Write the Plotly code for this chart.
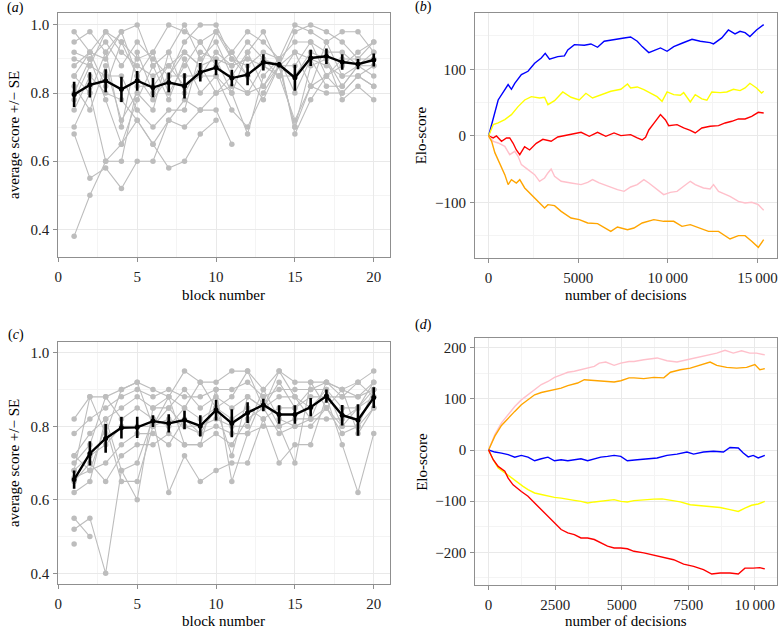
import plotly.graph_objects as go

FONT = "Liberation Serif, Times New Roman, serif"
W, H = 780, 629

# ---------------- Panel (a) data ----------------
blocks = list(range(1, 21))
a_mean = [0.796, 0.824, 0.836, 0.811, 0.836, 0.816, 0.831, 0.821, 0.861, 0.875,
          0.844, 0.854, 0.890, 0.883, 0.845, 0.903, 0.908, 0.891, 0.885, 0.897]
a_se = [0.037, 0.037, 0.034, 0.037, 0.029, 0.028, 0.029, 0.037, 0.027, 0.023,
        0.024, 0.031, 0.024, 0.008, 0.038, 0.024, 0.023, 0.023, 0.015, 0.019]
a_p01 = [0.98, 0.92, 0.98, 0.95, 0.90, 0.92, 1.00, 0.98, 0.95, 0.98, 0.92, 0.98, 0.95, 0.90, 1.00, 0.98, 0.95, 0.98, 0.98, 0.92]
a_p02 = [0.95, 0.98, 0.92, 0.98, 1.00, 0.88, 0.92, 1.00, 0.90, 0.95, 0.85, 0.92, 0.98, 0.88, 0.98, 1.00, 0.98, 0.95, 0.90, 0.95]
a_p03 = [0.92, 0.90, 0.95, 0.88, 0.95, 0.90, 0.85, 0.95, 1.00, 1.00, 0.90, 0.88, 0.92, 0.90, 0.95, 0.95, 0.92, 0.92, 0.88, 0.90]
a_p04 = [0.90, 0.88, 0.98, 0.92, 0.88, 0.85, 0.88, 0.92, 0.88, 0.90, 0.88, 0.90, 0.88, 0.85, 0.92, 0.90, 0.88, 0.85, 0.85, 0.88]
a_p05 = [0.88, 0.92, 0.90, 0.98, 0.85, 0.92, 0.80, 0.88, 0.95, 0.88, 0.92, 0.85, 0.90, 0.88, 0.88, 0.95, 0.85, 0.88, 0.92, 0.95]
a_p06 = [0.85, 0.80, 0.92, 0.70, 0.92, 0.80, 0.85, 0.85, 0.85, 0.85, 0.80, 0.92, 0.82, 0.90, 0.80, 0.90, 0.82, 0.82, 0.88, 0.88]
a_p07 = [0.82, 0.75, 0.88, 0.72, 0.80, 0.75, 0.92, 0.80, 0.88, 0.80, 0.85, 0.80, 0.88, 0.85, 0.72, 0.82, 0.80, 0.80, 0.85, 0.82]
a_p08 = [0.80, 0.90, 0.78, 0.65, 0.78, 0.88, 0.78, 0.90, 0.80, 0.85, 0.75, 0.70, 0.80, 0.88, 0.70, 0.88, 0.90, 0.78, 0.82, 0.78]
a_p09 = [0.78, 0.88, 0.85, 0.85, 0.75, 0.70, 0.75, 0.75, 0.92, 0.90, 0.80, 0.68, 0.85, 0.90, 0.68, 0.78, 0.85, 0.90, 0.90, 0.90]
a_p10 = [0.75, 0.85, 0.80, 0.78, 0.72, 0.65, 0.72, 0.70, 0.75, 0.75, 0.65, None, None, None, None, None, None, None, None, None]
a_p11 = [0.70, 0.80, 0.60, 0.60, 0.82, 0.82, 0.88, 0.82, 0.85, 0.92, 0.88, 0.95, 0.90, 0.85, 0.85, 0.92, 0.90, 0.82, 0.88, 0.85]
a_p12 = [0.68, 0.55, 0.58, 0.52, 0.60, 0.60, 0.72, 0.78, 0.75, 0.80, 0.82, 0.80, 0.82, 0.88, 0.70, 0.82, 0.85, 0.80, 0.85, 0.82]
a_p13 = [0.38, 0.50, 0.60, 0.65, 0.72, 0.65, 0.58, 0.60, 0.68, 0.72, None, None, None, None, None, None, None, None, None, None]
a_p14 = [0.85, 0.92, 0.82, 0.95, 0.85, 0.78, 0.85, 0.92, 0.88, 0.98, 0.90, 0.85, 0.78, 0.88, 0.92, 0.82, 0.95, 0.85, 0.88, 0.92]
a_people = [a_p01, a_p02, a_p03, a_p04, a_p05, a_p06, a_p07, a_p08, a_p09, a_p10, a_p11, a_p12, a_p13, a_p14]

# ---------------- Panel (c) data ----------------
c_mean = [0.655, 0.726, 0.767, 0.796, 0.797, 0.814, 0.808, 0.817, 0.801, 0.844,
          0.808, 0.837, 0.858, 0.832, 0.832, 0.852, 0.882, 0.830, 0.817, 0.878]
c_se = [0.025, 0.033, 0.039, 0.029, 0.029, 0.016, 0.025, 0.025, 0.029, 0.028,
        0.038, 0.028, 0.017, 0.025, 0.025, 0.025, 0.018, 0.028, 0.043, 0.028]
c_p01 = [0.82, 0.88, 0.88, 0.90, 0.92, 0.90, 0.88, 0.95, 0.92, 0.92, 0.95, 0.95, 0.90, 0.95, 0.92, 0.92, 0.92, 0.90, 0.92, 0.95]
c_p02 = [0.78, 0.82, 0.85, 0.88, 0.90, 0.88, 0.90, 0.88, 0.88, 0.90, 0.90, 0.92, 0.88, 0.90, 0.90, 0.90, 0.92, 0.88, 0.88, 0.92]
c_p03 = [0.72, 0.78, 0.82, 0.85, 0.88, 0.85, 0.85, 0.90, 0.85, 0.88, 0.85, 0.88, 0.85, 0.88, 0.88, 0.85, 0.90, 0.85, 0.85, 0.90]
c_p04 = [0.70, 0.75, 0.88, 0.82, 0.85, 0.82, 0.80, 0.85, 0.82, 0.85, 0.82, 0.85, 0.82, 0.85, 0.85, 0.88, 0.88, 0.88, 0.92, 0.88]
c_p05 = [0.68, 0.72, 0.75, 0.80, 0.80, 0.80, 0.82, 0.80, 0.80, 0.82, 0.80, 0.80, 0.90, 0.82, 0.80, 0.82, 0.85, 0.80, 0.80, 0.85]
c_p06 = [0.66, 0.68, 0.70, 0.75, 0.78, 0.78, 0.75, 0.82, 0.78, 0.80, 0.78, 0.78, 0.88, 0.80, 0.82, 0.82, 0.82, 0.82, 0.85, 0.88]
c_p07 = [0.65, 0.70, 0.65, 0.72, 0.75, 0.75, 0.78, 0.75, 0.75, 0.78, 0.75, 0.82, 0.85, 0.78, 0.80, 0.80, 0.85, 0.90, 0.78, 0.85]
c_p08 = [0.62, 0.65, 0.82, 0.68, 0.70, 0.82, 0.62, 0.72, 0.65, 0.68, 0.70, 0.70, 0.82, 0.70, 0.75, 0.75, 0.88, 0.75, 0.62, 0.78]
c_p09 = [0.72, 0.68, 0.80, 0.65, 0.65, 0.80, 0.88, 0.75, 0.75, 0.90, 0.65, 0.78, 0.80, 0.80, 0.70, 0.92, 0.85, 0.78, 0.80, 0.90]
c_p10 = [0.55, 0.50, None, None, None, None, None, None, None, None, None, None, None, None, None, None, None, None, None, None]
c_p11 = [0.52, 0.55, 0.40, 0.68, 0.60, 0.85, 0.88, 0.85, 0.92, 0.85, 0.72, 0.88, 0.85, 0.92, 0.85, 0.90, 0.90, 0.80, 0.85, 0.92]
c_p12 = [0.48, None, None, None, None, None, None, None, None, None, None, None, None, None, None, None, None, None, None, None]
c_p13 = [0.68, 0.88, 0.78, 0.90, 0.92, 0.80, 0.85, 0.80, 0.78, 0.85, 0.88, 0.95, 0.85, 0.95, 0.88, 0.82, 0.92, 0.90, 0.88, 0.90]
c_people = [c_p01, c_p02, c_p03, c_p04, c_p05, c_p06, c_p07, c_p08, c_p09, c_p10, c_p11, c_p12, c_p13]

# ---------------- Panel (b) data ----------------
b_blue_x = [0, 350, 535, 1090, 1275, 1460, 1830, 2200, 2570, 2940, 3160, 3400, 3860, 4230, 4420, 4790, 5340, 5710, 6080, 6450, 7000, 7560, 7925, 8295, 8570, 8940, 9220, 9590, 9960, 10330, 10790, 11350, 11810, 12360, 12550, 13010, 13380, 13750, 14030, 14310, 14580, 14950, 15350]
b_blue_y = [0, 34, 54, 77, 70, 79, 92, 97, 109, 117, 124, 115, 119, 120, 129, 137, 136, 138, 133, 142, 144, 147, 148.5, 142, 134, 125, 128, 132, 127, 134, 139, 145, 142, 140, 138, 147, 159, 153, 157, 155, 149, 159, 167]
b_yellow_x = [0, 260, 535, 905, 1275, 1645, 2015, 2385, 2845, 3125, 3310, 3680, 4140, 4600, 5060, 5430, 5800, 6270, 6820, 7380, 7750, 7925, 8295, 8665, 9400, 9680, 9960, 10330, 10700, 10885, 11255, 11530, 11900, 12180, 12455, 12920, 13290, 13660, 14030, 14310, 14580, 14950, 15230, 15350]
b_yellow_y = [0, 17, 19.5, 24.5, 32, 44, 54, 59, 57, 58, 47, 53, 66, 58, 54, 64, 57, 62, 67, 70, 78, 72, 73.5, 69.5, 59, 52, 66, 62, 61, 65, 51, 62, 55.5, 53.5, 66, 65, 66, 70, 68, 72, 79, 72, 64.5, 67]
b_red_x = [0, 260, 440, 720, 1000, 1180, 1370, 1550, 1740, 2010, 2290, 2660, 3030, 3490, 3860, 4230, 4790, 5160, 5620, 6080, 6540, 7000, 7380, 7750, 7925, 8295, 8570, 8760, 8940, 9220, 9590, 9870, 10050, 10515, 10885, 11255, 11530, 11900, 12360, 12830, 13200, 13570, 13940, 14310, 14680, 15050, 15350]
b_red_y = [0, -3, 0, -8, -3, -3, -11, -21, -28, -16, -21, -11, -5, -8, -1.5, 0.5, 4.5, 5.5, -0.5, 5.5, -0.5, 4.5, 0.5, 2, 2, -3, -6, -2, 9, 19, 32, 24, 15.5, 17, 12, 8.5, 4.5, 12, 14.5, 15.5, 19.5, 22, 25.5, 25.5, 29.5, 35.5, 34.5]
b_pink_x = [0, 260, 535, 905, 1180, 1460, 1645, 1830, 2200, 2570, 2845, 3125, 3310, 3490, 3680, 4050, 4600, 5160, 5530, 5800, 6170, 6640, 7190, 7560, 7925, 8295, 8665, 8940, 9400, 9770, 10140, 10515, 10885, 11255, 11530, 11990, 12360, 12550, 12830, 13100, 13470, 13940, 14310, 14680, 15050, 15350]
b_pink_y = [0, -8, -10.5, -15.5, -28, -23, -30.5, -43, -50.5, -58, -68, -63, -55.5, -49.5, -60.5, -68, -70.5, -73, -69.5, -65.5, -70.5, -75.5, -80.5, -83, -76.5, -73, -65.5, -70.5, -79.5, -88, -84.5, -83, -75.5, -68, -73, -78, -79.5, -73, -83, -86.5, -90.5, -98, -100.5, -99.5, -103, -111.5]
b_orange_x = [0, 170, 350, 630, 905, 1090, 1275, 1550, 1740, 2015, 2480, 2845, 3125, 3310, 3680, 4050, 4600, 5060, 5530, 6080, 6540, 6820, 7190, 7750, 8110, 8570, 9220, 9770, 10330, 10790, 11255, 11810, 12270, 12830, 13100, 13470, 13940, 14310, 14680, 15050, 15350]
b_orange_y = [0, -8, -25, -43, -58, -73, -65.5, -70.5, -65.5, -78, -90.5, -100.5, -108, -103, -104.5, -113, -123, -125.5, -130.5, -131.5, -138, -143, -136.5, -140.5, -138, -130.5, -125.5, -128, -128, -135.5, -133, -138, -143, -143, -148, -154.5, -149.5, -149.5, -158, -167, -155.5]

# ---------------- Panel (d) data ----------------
d_pink_x = [0, 236, 485, 734, 983, 1230, 1480, 1730, 1980, 2230, 2475, 2725, 2975, 3220, 3470, 3720, 3970, 4155, 4400, 4715, 4965, 5275, 5460, 5830, 6330, 6700, 7075, 7450, 7820, 8195, 8570, 8880, 9190, 9500, 9810, 10060, 10373]
d_pink_y = [0, 30, 53, 69, 85, 98, 108, 118, 128, 134, 142, 147, 152, 154, 157, 160, 163.5, 170, 172, 165.5, 170, 173, 173, 176.5, 180, 174.5, 172, 176.5, 181, 185, 189.5, 195, 189.5, 194, 189.5, 189.5, 186]
d_orange_x = [0, 236, 485, 734, 983, 1230, 1480, 1730, 1980, 2230, 2475, 2725, 2975, 3160, 3345, 3595, 3970, 4340, 4715, 4965, 5275, 5460, 5830, 6205, 6580, 6830, 7200, 7575, 7950, 8320, 8570, 8940, 9315, 9690, 10000, 10187, 10373]
d_orange_y = [0, 27, 48, 62.5, 75.5, 88.5, 98.5, 108, 112.5, 115, 118, 121, 126, 129, 131, 137.5, 135.5, 134, 133, 135.5, 141, 141, 139.5, 142, 141, 152, 157, 160, 165.5, 172, 165.5, 161.5, 160, 161.5, 167, 157, 159]
d_blue_x = [0, 236, 485, 734, 983, 1230, 1480, 1730, 1980, 2230, 2475, 2725, 2975, 3220, 3470, 3720, 3970, 4215, 4465, 4715, 4965, 5210, 5583, 5956, 6330, 6700, 7075, 7450, 7700, 8070, 8445, 8820, 9066, 9378, 9565, 9750, 9940, 10125, 10373]
d_blue_y = [0, -4, -6, -9, -14, -10.5, -14, -21, -17, -14, -21, -19, -21, -19, -17, -21, -17, -14, -12.5, -10.5, -12.5, -21, -19, -17, -15.5, -10.5, -8, -4, -8, -4, -2.5, -4, 5, 4, -6, -13.5, -10.5, -15.5, -10.5]
d_yellow_x = [0, 175, 360, 610, 800, 1045, 1295, 1480, 1730, 1980, 2230, 2475, 2725, 2975, 3220, 3470, 3720, 3970, 4215, 4465, 4715, 4965, 5210, 5460, 5830, 6205, 6517, 6830, 7200, 7575, 7950, 8320, 8695, 9066, 9378, 9627, 9876, 10125, 10373]
d_yellow_y = [0, -19, -35, -45, -51.5, -61, -71, -77.5, -84, -87, -90.5, -92.5, -94, -97, -98.5, -100.5, -103.5, -101.5, -100.5, -99, -97, -100.5, -101.5, -99, -97, -96, -95.5, -98.5, -101.5, -107, -109, -110.5, -112.5, -116.5, -120, -113.5, -108, -105.5, -100.5]
d_red_x = [0, 175, 360, 610, 734, 920, 1230, 1480, 1730, 1980, 2230, 2475, 2725, 2975, 3220, 3470, 3720, 3970, 4215, 4465, 4715, 4965, 5210, 5460, 5830, 6205, 6580, 6950, 7325, 7700, 8070, 8380, 8695, 9066, 9378, 9627, 9940, 10187, 10373]
d_red_y = [0, -19, -32, -41.5, -55, -68, -81, -90.5, -103.5, -116.5, -129.5, -142.5, -155.5, -162, -165.5, -172, -172, -175, -182, -188, -191.5, -191.5, -193, -198, -201, -206, -211, -214.5, -223, -227.5, -234, -242.5, -240.5, -240.5, -242.5, -231, -231, -230, -232.5]

# ---------------- build figure ----------------
fig = go.Figure()
GREY = "#bdbdbd"

def add_people(people, xa, ya):
    for p in people:
        fig.add_trace(go.Scatter(x=blocks, y=p, mode="lines+markers", xaxis=xa, yaxis=ya,
                                 line=dict(color=GREY, width=1.1),
                                 marker=dict(color=GREY, size=5.5),
                                 connectgaps=False, showlegend=False, hoverinfo="skip"))

def add_mean(mean, se, xa, ya):
    fig.add_trace(go.Scatter(x=blocks, y=mean, mode="lines+markers", xaxis=xa, yaxis=ya,
                             line=dict(color="black", width=2.4),
                             marker=dict(color="black", size=5),
                             error_y=dict(type="data", array=se, visible=True, width=0,
                                          thickness=2.6, color="black"),
                             showlegend=False))

add_people(a_people, "x", "y")
add_mean(a_mean, a_se, "x", "y")
add_people(c_people, "x3", "y3")
add_mean(c_mean, c_se, "x3", "y3")

def add_elo(xs, ys, color, xa, ya):
    fig.add_trace(go.Scatter(x=xs, y=ys, mode="lines", xaxis=xa, yaxis=ya,
                             line=dict(color=color, width=1.4), showlegend=False))

add_elo(b_blue_x, b_blue_y, "#0000ff", "x2", "y2")
add_elo(b_yellow_x, b_yellow_y, "#ffff00", "x2", "y2")
add_elo(b_red_x, b_red_y, "#ff0000", "x2", "y2")
add_elo(b_pink_x, b_pink_y, "#ffc0cb", "x2", "y2")
add_elo(b_orange_x, b_orange_y, "#ffa500", "x2", "y2")

add_elo(d_pink_x, d_pink_y, "#ffc0cb", "x4", "y4")
add_elo(d_orange_x, d_orange_y, "#ffa500", "x4", "y4")
add_elo(d_blue_x, d_blue_y, "#0000ff", "x4", "y4")
add_elo(d_yellow_x, d_yellow_y, "#ffff00", "x4", "y4")
add_elo(d_red_x, d_red_y, "#ff0000", "x4", "y4")

def px_x(a, b):
    return [a / W, b / W]

def px_y(top, bottom):
    return [1 - bottom / H, 1 - top / H]

common = dict(showline=True, mirror=True, linecolor="#8f8f8f", linewidth=1,
              ticks="outside", ticklen=4, tickcolor="#8f8f8f", tickwidth=1,
              showgrid=True, gridcolor="#e9e9e9", gridwidth=1, zeroline=False,
              tickfont=dict(family=FONT, size=15, color="#222"))
xcommon = dict(common, ticklabelstandoff=2)
ycommon = dict(common, ticklabelstandoff=1)

def minor(tick0, dtick):
    return dict(showgrid=True, gridcolor="#f4f4f4", gridwidth=0.8, ticks="",
                tickmode="linear", tick0=tick0, dtick=dtick)

fig.update_layout(
    width=W, height=H, margin=dict(l=0, r=0, t=0, b=0),
    font=dict(family=FONT, size=15, color="black"),
    paper_bgcolor="white", plot_bgcolor="white", showlegend=False,
    xaxis=dict(domain=px_x(54.7, 388), range=[0, 21], anchor="y",
               tickmode="linear", tick0=0, dtick=5, minor=minor(0, 2.5), **xcommon),
    yaxis=dict(domain=px_y(13.3, 257.3), range=[0.318, 1.034], anchor="x",
               tickmode="linear", tick0=0.4, dtick=0.2, tickformat=".1f",
               minor=minor(0.3, 0.1), **ycommon),
    xaxis2=dict(domain=px_x(474, 778), range=[-760, 16093], anchor="y2",
                tickmode="array", tickvals=[0, 5000, 10000, 15000],
                ticktext=["0", "5000", "10\u2009000", "15\u2009000"],
                minor=minor(0, 2500), **xcommon),
    yaxis2=dict(domain=px_y(13, 258), range=[-183, 184.4], anchor="x2",
                tickmode="array", tickvals=[-100, 0, 100], ticktext=["\u2212100", "0", "100"],
                minor=minor(-150, 50), **ycommon),
    xaxis3=dict(domain=px_x(54.7, 388), range=[0, 21], anchor="y3",
                tickmode="linear", tick0=0, dtick=5, minor=minor(0, 2.5), **xcommon),
    yaxis3=dict(domain=px_y(341.7, 584), range=[0.371, 1.030], anchor="x3",
                tickmode="linear", tick0=0.4, dtick=0.2, tickformat=".1f",
                minor=minor(0.3, 0.1), **ycommon),
    xaxis4=dict(domain=px_x(474.3, 778.3), range=[-500, 10843], anchor="y4",
                tickmode="array", tickvals=[0, 2500, 5000, 7500, 10000],
                ticktext=["0", "2500", "5000", "7500", "10\u2009000"],
                minor=minor(0, 1250), **xcommon),
    yaxis4=dict(domain=px_y(338.3, 585), range=[-263.9, 218.4], anchor="x4",
                tickmode="array", tickvals=[-200, -100, 0, 100, 200],
                ticktext=["\u2212200", "\u2212100", "0", "100", "200"],
                minor=minor(-250, 50), **ycommon),
)

def ann(text, xpx, ypx, size=15, angle=0, xanchor="center"):
    fig.add_annotation(text=text, x=xpx / W, y=1 - ypx / H, xref="paper", yref="paper",
                       showarrow=False, textangle=angle, xanchor=xanchor, yanchor="middle",
                       font=dict(family=FONT, size=size, color="black"))

ann("block number", 221.4, 295)
ann("number of decisions", 626, 295)
ann("block number", 221.4, 621)
ann("number of decisions", 626, 621)
ann("average score +/\u2212 SE", 10, 135, angle=-90)
ann("average score +/\u2212 SE", 10, 463, angle=-90)
ann("Elo-score", 420, 135, angle=-90)
ann("Elo-score", 420, 461.5, angle=-90)
ann("(<i>a</i>)", 1, 8, size=14, xanchor="left")
ann("(<i>b</i>)", 411.7, 7, size=14, xanchor="left")
ann("(<i>c</i>)", 2, 335, size=14, xanchor="left")
ann("(<i>d</i>)", 411.7, 325, size=14, xanchor="left")

fig.write_html("out.html", config={"displayModeBar": False},
               post_script="document.body.style.margin='0';document.body.style.overflow='hidden';")
